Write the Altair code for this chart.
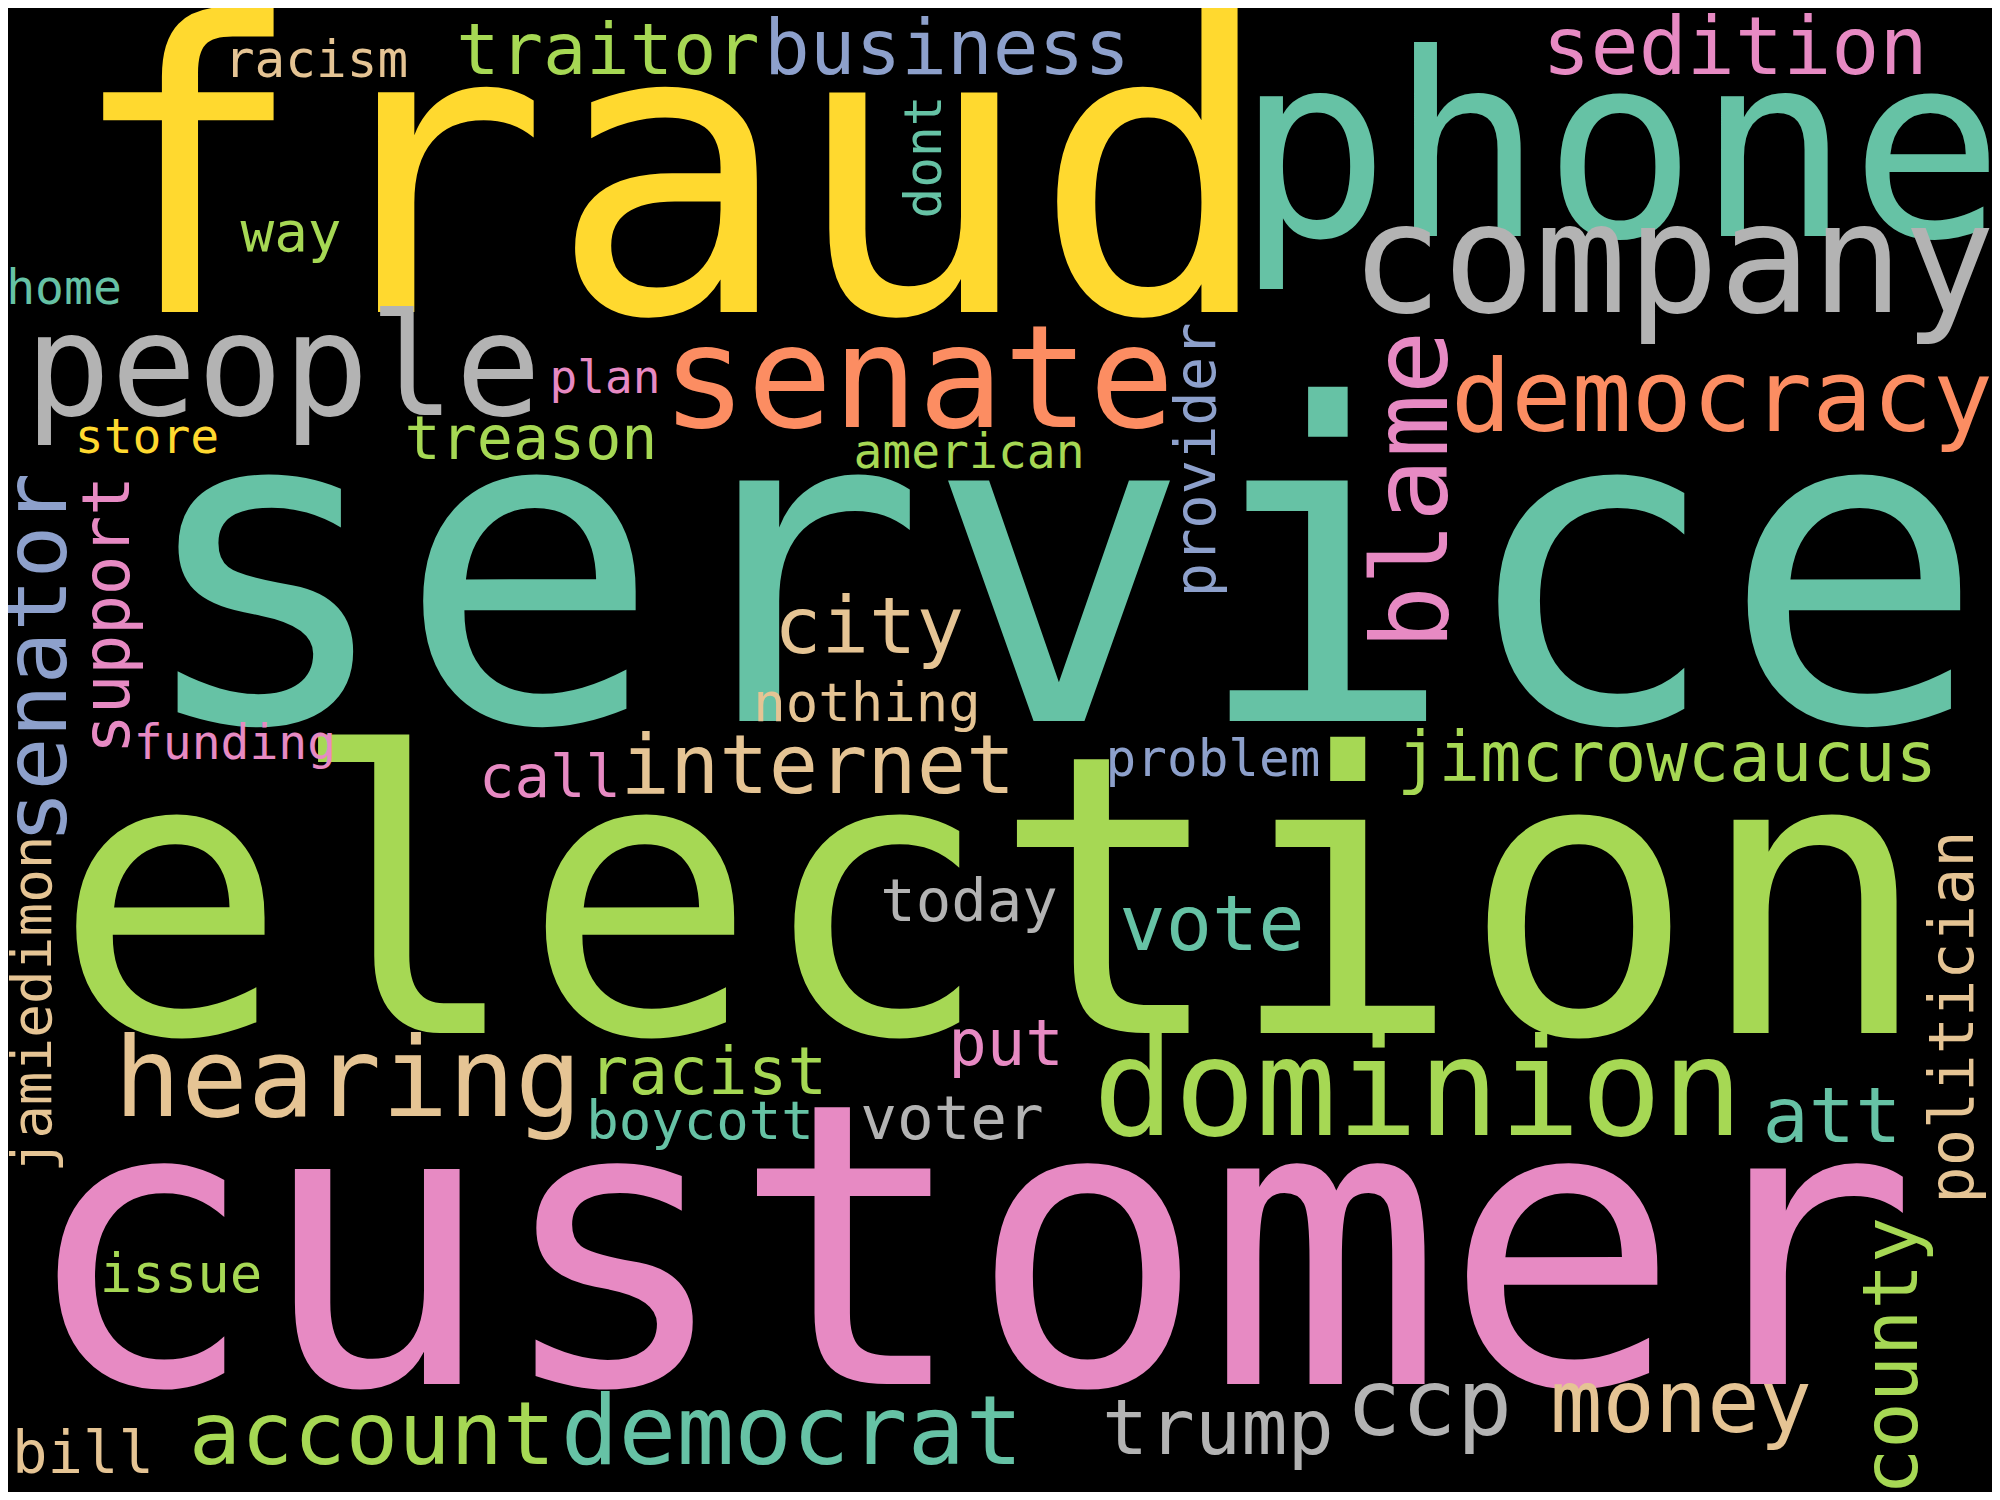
import altair as alt
import pandas as pd

# word cloud, positions in pixels of the 2000x1500 picture
words = ["fraud", "phone", "company", "people", "senate", "democracy", "service",
         "election", "customer", "hearing", "dominion", "account", "democrat",
         "trump", "ccp", "money", "bill", "issue", "racist", "boycott", "voter",
         "put", "today", "vote", "att", "internet", "call", "jimcrowcaucus",
         "problem", "nothing", "city", "funding", "american", "treason", "store",
         "plan", "home", "way", "racism", "traitor", "business", "sedition",
         "dont", "provider", "blame", "senator", "support", "jamiedimon",
         "politician", "county"]
xs = [670, 1620, 1673, 283, 918, 1722, 1059,
      992, 969, 348, 1418, 372, 792,
      1218, 1429, 1681, 83, 181, 708, 700, 952,
      1006, 969, 1212, 1832, 818, 550, 1667,
      1213, 867, 869, 235, 969, 531, 147,
      605, 64, 291, 316, 608, 947, 1735,
      941, 1215, 1447, 66, 129, 51,
      1973, 1917]
ys = [312, 236, 312, 415, 427, 431, 721,
      1033, 1384, 1116, 1135, 1464, 1464,
      1454, 1435, 1432, 1473, 1292, 1094, 1139, 1139,
      1065, 921, 950, 1142, 793, 797, 781,
      776, 721, 653, 759, 468, 459, 453,
      393, 304, 251, 77, 74, 74, 74,
      157, 460, 490, 658, 615, 1004,
      1017, 1356]
sizes = [402, 255, 153, 143, 142, 100, 440,
         390, 394, 111, 135, 87, 96,
         77, 92, 87, 59, 54, 66, 54, 61,
         64, 59, 77, 77, 82, 59, 69,
         51, 54, 79, 48, 48, 60, 48,
         46, 48, 56, 51, 72, 76, 80,
         51, 57, 106, 88, 66, 56,
         62, 77]
vertical = [0] * 42 + [1] * 8
colours = ["yellow", "teal", "gray", "gray", "orange", "orange", "teal",
           "green", "pink", "tan", "green", "green", "teal",
           "gray", "gray", "tan", "tan", "green", "green", "teal", "gray",
           "pink", "gray", "teal", "teal", "tan", "pink", "green",
           "blue", "tan", "tan", "pink", "green", "green", "yellow",
           "pink", "teal", "green", "tan", "green", "blue", "pink",
           "teal", "blue", "pink", "blue", "pink", "tan",
           "tan", "green"]
set2_names = ["teal", "orange", "blue", "pink", "green", "yellow", "tan", "gray"]

df = pd.DataFrame({
    "word": words, "x": xs, "y": ys, "size": sizes,
    "angle": [270 * v for v in vertical], "colour": colours,
})

chart = alt.Chart(df).mark_text(
    font="DejaVu Sans Mono", align="center", baseline="alphabetic", clip=True
).encode(
    x=alt.X("x:Q", scale=alt.Scale(domain=[8, 1992]), axis=None),
    y=alt.Y("y:Q", scale=alt.Scale(domain=[1492, 8]), axis=None),
    text="word:N",
    size=alt.Size("size:Q", scale=None),
    angle=alt.Angle("angle:Q", scale=None),
    color=alt.Color("colour:N", scale=alt.Scale(domain=set2_names, scheme="set2"), legend=None),
).properties(
    width=1984, height=1484, background="black", padding=0,
    autosize=alt.AutoSizeParams(type="none")
).configure_view(
    strokeWidth=0
)

chart.save("out.html", embed_options={"renderer": "svg", "actions": False})
